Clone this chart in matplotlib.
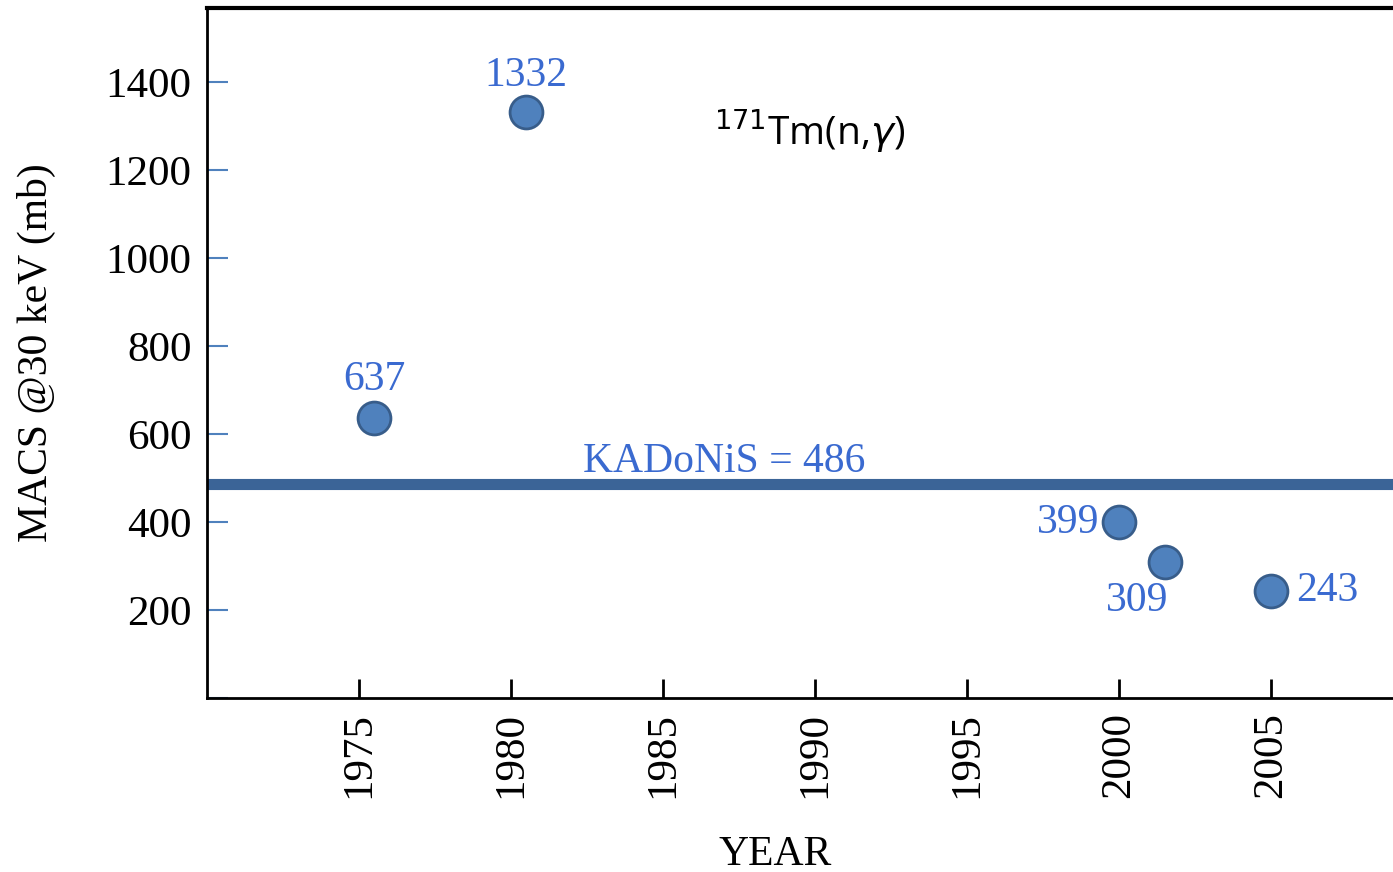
import matplotlib.pyplot as plt

# MACS at 30 keV for 171Tm(n,g), by year of measurement
years = [1975.5, 1980.5, 2000.0, 2001.5, 2005.0]
macs = [637, 1332, 399, 309, 243]
kadonis = 486

# label offsets (points) for each value
offsets = [(0, 27), (0, 26), (-14, 0), (-20, -28), (18, 0)]
aligns = ['center', 'center', 'right', 'center', 'left']

plt.rcParams['font.family'] = 'Liberation Serif'
blue_txt = '#3A6AD0'

fig = plt.figure(figsize=(13.93, 8.72), dpi=100)
ax = fig.add_axes([207 / 1393, 1 - 698 / 872, 1 - 207 / 1393, 690 / 872])

ax.axhline(kadonis, color='#3B6497', lw=8, zorder=1)
ax.scatter(years, macs, s=560, color='#4F81BD', edgecolor='#385D8A', linewidth=2, zorder=3)

for x, y, off, ha in zip(years, macs, offsets, aligns):
    ax.annotate(str(y), (x, y), xytext=off, textcoords='offset points',
                ha=ha, va='center', fontsize=30, color=blue_txt)

ax.text(1987.0, kadonis + 8, 'KADoNiS = ' + str(kadonis), ha='center', va='bottom',
        fontsize=30, color=blue_txt)

ax.text(1989.8, 1290, r'$^{171}$Tm(n,$\gamma$)', ha='center', va='center',
        fontsize=28, family='Open Sans', color='black')

ax.set_xlim(1970, 2009)
ax.set_ylim(0, 1568)

ax.set_xticks([1975, 1980, 1985, 1990, 1995, 2000, 2005])
ax.set_yticks([0, 200, 400, 600, 800, 1000, 1200, 1400])
ax.set_yticklabels(['', '200', '400', '600', '800', '1000', '1200', '1400'])
ax.tick_params(axis='x', direction='in', length=14, width=2, color='black', pad=10,
               labelsize=31, labelrotation=90)
ax.tick_params(axis='y', direction='in', length=15, width=1.5, color='#4F81BD', pad=11,
               labelsize=31)

ax.spines['right'].set_visible(False)
ax.spines['top'].set_linewidth(3)
ax.spines['left'].set_linewidth(2)
ax.spines['bottom'].set_linewidth(2)

ax.set_ylabel('MACS @30 keV (mb)', fontsize=30, labelpad=36)
fig.text(775 / 1393, 1 - 855 / 872, 'YEAR', ha='center', va='center', fontsize=30)

fig.savefig('out.png', dpi=100)
